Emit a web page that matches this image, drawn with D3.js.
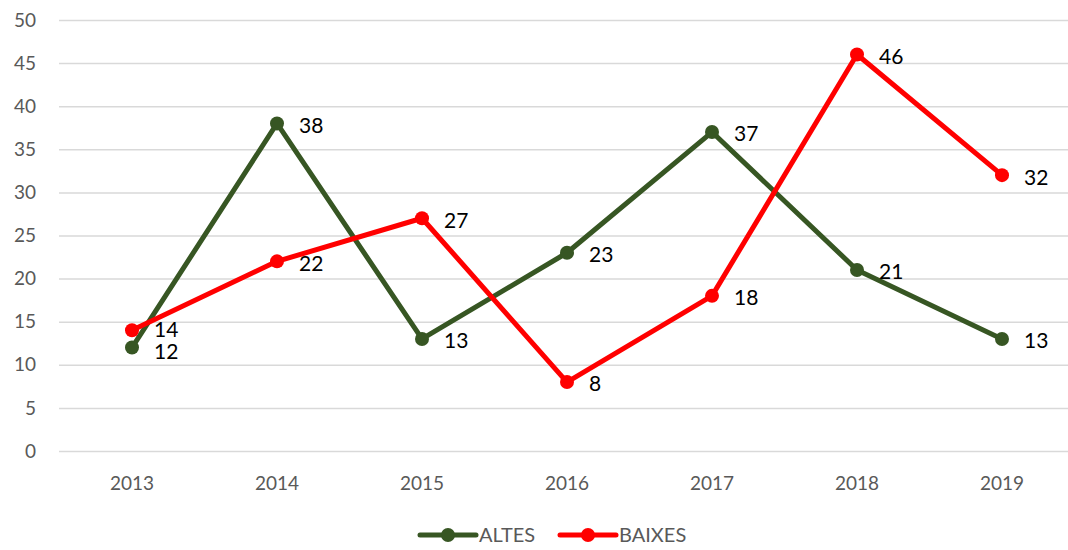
<!DOCTYPE html>
<html>
<head>
<meta charset="utf-8">
<script src="https://cdn.jsdelivr.net/npm/d3@7"></script>
<style>
  body { margin: 0; background: #fff; }
  text { font-family: Lato, "Open Sans", sans-serif; }
</style>
</head>
<body>
<div id="chart"></div>
<script>
var years = ["2013", "2014", "2015", "2016", "2017", "2018", "2019"];
var altes = [12, 38, 13, 23, 37, 21, 13];
var baixes = [14, 22, 27, 8, 18, 46, 32];
var yTicks = [0, 5, 10, 15, 20, 25, 30, 35, 40, 45, 50];

var width = 1068, height = 550;

var svg = d3.select("#chart").append("svg")
    .attr("width", width)
    .attr("height", height);

var x = d3.scalePoint().domain(years).range([132, 1002]);
var y = d3.scaleLinear().domain([0, 50]).range([451, 20]);

// gridlines
svg.append("g").selectAll("line")
    .data(yTicks)
    .enter().append("line")
    .attr("x1", 59)
    .attr("x2", width)
    .attr("y1", function (d) { return y(d) + 0.5; })
    .attr("y2", function (d) { return y(d) + 0.5; })
    .style("stroke", "#d9d9d9")
    .style("stroke-width", 1.5);

// y labels
svg.append("g").selectAll("text")
    .data(yTicks)
    .enter().append("text")
    .attr("x", 36)
    .attr("y", function (d) { return y(d); })
    .attr("dy", "0.35em")
    .attr("text-anchor", "end")
    .style("font-size", "19px")
    .style("fill", "#595959")
    .text(function (d) { return d; });

// x labels
svg.append("g").selectAll("text")
    .data(years)
    .enter().append("text")
    .attr("x", function (d) { return x(d); })
    .attr("y", 483)
    .attr("dy", "0.35em")
    .attr("text-anchor", "middle")
    .style("font-size", "19px")
    .style("fill", "#595959")
    .text(function (d) { return d; });

var series = [
    { name: "ALTES", values: altes, color: "#375623", labelDy: [4, 2, 2, 2, 2, 2, 2] },
    { name: "BAIXES", values: baixes, color: "#ff0000", labelDy: [-1, 2, 2, 2, 2, 2, 2] }
];

var line = d3.line()
    .x(function (d, i) { return x(years[i]); })
    .y(function (d) { return y(d); });

series.forEach(function (s) {
    var g = svg.append("g");
    g.append("path")
        .datum(s.values)
        .attr("d", line)
        .style("fill", "none")
        .style("stroke", s.color)
        .style("stroke-width", 5)
        .style("stroke-linejoin", "round");
    g.selectAll("circle")
        .data(s.values)
        .enter().append("circle")
        .attr("cx", function (d, i) { return x(years[i]); })
        .attr("cy", function (d) { return y(d); })
        .attr("r", 7)
        .style("fill", s.color);
});

// data labels
series.forEach(function (s) {
    svg.append("g").selectAll("text")
        .data(s.values)
        .enter().append("text")
        .attr("x", function (d, i) { return x(years[i]) + 22; })
        .attr("y", function (d, i) { return y(d) + s.labelDy[i]; })
        .attr("dy", "0.35em")
        .style("font-size", "21px")
        .style("fill", "#000")
        .text(function (d) { return d; });
});

// legend
var legend = svg.append("g");
var legendX = [420, 560];
series.forEach(function (s, i) {
    var lx = legendX[i];
    legend.append("line")
        .attr("x1", lx).attr("x2", lx + 56)
        .attr("y1", 535).attr("y2", 535)
        .style("stroke", s.color)
        .style("stroke-width", 5)
        .style("stroke-linecap", "round");
    legend.append("circle")
        .attr("cx", lx + 28).attr("cy", 535).attr("r", 7)
        .style("fill", s.color);
    legend.append("text")
        .attr("x", lx + 59)
        .attr("y", 535)
        .attr("dy", "0.35em")
        .style("font-size", "20px")
        .style("fill", "#595959")
        .text(s.name);
});
</script>
</body>
</html>
